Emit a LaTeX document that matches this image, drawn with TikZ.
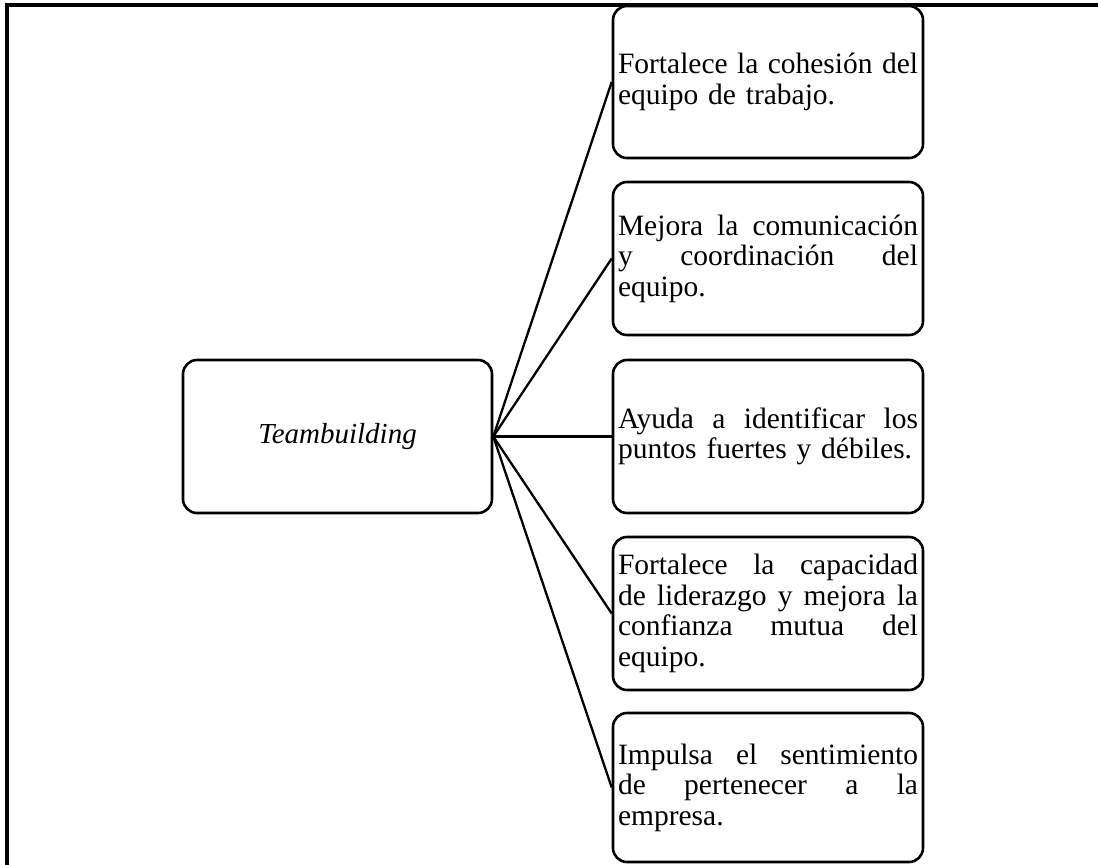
\documentclass[tikz,border=0pt]{standalone}
\usepackage{fontspec}
\setmainfont{Liberation Serif}
% a full justified line: spaces share the spare width equally
\newcommand{\fl}[1]{\leavevmode\hbox to 300pt{\spaceskip=0.25em plus 1fil\relax #1}}
% a closing line at its natural width
\newcommand{\lastln}[1]{\leavevmode\hbox{#1}}
\begin{document}
\begin{tikzpicture}[x=1pt,y=-1pt,
  box/.style={draw, line width=2.6pt, rounded corners=14pt, inner sep=0pt},
  hub/.style={box, minimum width=309pt, minimum height=153pt,
    font=\fontsize{29}{30}\selectfont\itshape},
  item/.style={box, minimum width=310pt, minimum height=153pt,
    text width=300pt, align=left, font=\fontsize{29.5}{30.5}\selectfont},
  link/.style={line width=2.3pt}]
\useasboundingbox (0,0) rectangle (1098,865);
% frame edges
\draw[line width=3.2pt] (7,865) -- (7,5) -- (1098,5);
% central concept
\node[hub] (c) at (337.5,436.5) {Teambuilding};
% benefits
\node[item, minimum height=152pt] (b1) at (768,82)
  {\fl{Fortalece la cohesión del}\\\lastln{equipo de trabajo.}};
\node[item] (b2) at (768,258.5)
  {\fl{Mejora la comunicación}\\\fl{y coordinación del}\\\lastln{equipo.}};
\node[item] (b3) at (768,436.5)
  {\fl{Ayuda a identificar los}\\\lastln{puntos fuertes y débiles.}};
\node[item] (b4) at (768,613.5)
  {\fl{Fortalece la capacidad}\\\fl{de liderazgo y mejora la}\\\fl{confianza mutua del}\\\lastln{equipo.}};
\node[item, minimum height=149pt] (b5) at (768,787.5)
  {\fl{Impulsa el sentimiento}\\\fl{de pertenecer a la}\\\lastln{empresa.}};
% connectors
\foreach \b in {b1,b2,b3,b4,b5}
  \draw[link] (c.east) -- (\b.west);
\end{tikzpicture}
\end{document}
